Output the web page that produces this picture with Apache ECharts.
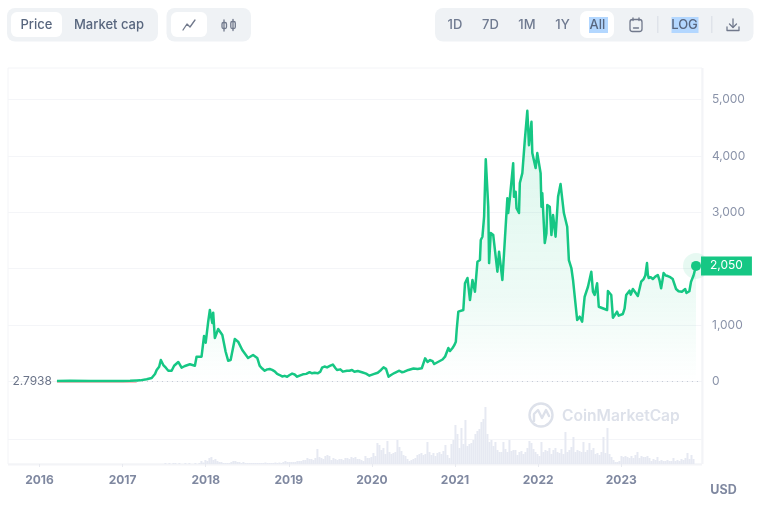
<!DOCTYPE html>
<html><head><meta charset="utf-8">
<style>html,body{margin:0;padding:0;background:#fff}#c{width:760px;height:510px}</style>
<script src="https://cdn.jsdelivr.net/npm/echarts@6/dist/echarts.min.js"></script>
</head><body><div id="c"></div>
<script>
const years=[2016.21,2016.37,2016.61,2016.85,2017.00,2017.09,2017.17,2017.21,2017.29,2017.35,2017.39,2017.41,2017.44,2017.46,2017.49,2017.52,2017.55,2017.59,2017.62,2017.67,2017.71,2017.75,2017.81,2017.87,2017.89,2017.95,2017.98,2018.00,2018.03,2018.05,2018.08,2018.09,2018.11,2018.15,2018.20,2018.24,2018.27,2018.30,2018.35,2018.39,2018.44,2018.51,2018.57,
2018.62,2018.65,2018.68,2018.71,2018.74,2018.77,2018.80,2018.83,2018.86,2018.89,2018.92,2018.95,2018.98,2019.01,2019.04,2019.07,2019.10,2019.13,2019.17,2019.21,2019.25,2019.28,2019.31,2019.35,2019.38,2019.40,2019.43,2019.46,2019.50,2019.53,2019.56,2019.58,2019.62,2019.65,2019.67,2019.70,2019.73,2019.76,2019.79,2019.83,2019.88,2019.93,2019.97,2020.02,2020.07,2020.11,2020.14,2020.17,2020.20,2020.23,2020.27,2020.33,2020.36,2020.39,2020.44,2020.50,2020.55,2020.60,2020.64,2020.67,2020.70,2020.73,2020.75,2020.80,2020.85,2020.88,2020.90,2020.92,2020.94,2020.97,2020.99,2021.01,
2021.02,2021.04,2021.10,2021.12,2021.15,2021.18,2021.21,2021.24,2021.27,2021.30,2021.31,2021.33,2021.35,2021.37,2021.40,2021.41,2021.43,2021.46,2021.51,2021.53,2021.57,2021.59,2021.63,2021.64,2021.66,2021.70,2021.71,2021.73,2021.74,2021.77,2021.78,2021.81,2021.84,2021.87,2021.89,2021.92,2021.93,2021.95,2021.97,2021.99,2022.03,2022.04,2022.05,2022.08,2022.10,2022.11,2022.14,2022.16,2022.18,2022.21,2022.24,2022.27,2022.31,2022.35,2022.37,2022.40,2022.42,2022.44,2022.47,2022.50,2022.53,2022.56,2022.60,2022.64,2022.66,2022.68,2022.71,2022.73,2022.80,2022.83,2022.84,2022.88,2022.90,2022.95,2022.97,
2023.02,2023.04,2023.06,2023.08,2023.10,2023.115,2023.13,2023.14,2023.15,2023.175,2023.20,2023.22,2023.24,2023.255,2023.27,2023.29,2023.31,2023.32,2023.33,2023.355,2023.38,2023.41,2023.44,2023.46,2023.48,2023.495,2023.51,2023.535,2023.56,2023.59,2023.62,2023.64,2023.66,2023.69,2023.73,2023.75,2023.77,2023.785,2023.80,2023.82,2023.84,2023.87,2023.90];
const prices=[8,12,10,8,10,12,18,20,40,62,133,204,262,381,292,245,191,191,280,346,245,275,305,280,440,440,807,688,1060,1268,1037,1220,771,931,824,528,369,381,753,706,558,417,470,
417,275,230,191,215,221,205,180,135,115,90,100,85,115,140,125,85,105,127,135,165,145,155,145,175,245,265,250,280,300,240,204,215,175,163,190,191,205,172,185,165,140,103,130,156,205,250,225,85,115,150,191,165,174,205,230,222,235,411,345,381,360,310,350,390,440,470,594,540,594,640,706,
913,1238,1268,1741,1835,1445,1800,1592,2124,2154,2509,2567,2922,3940,3099,2100,2632,2597,1947,2301,1800,2275,3250,2987,3250,3870,3275,3365,3073,2987,3520,3695,4280,4800,4190,4605,4050,4075,3785,4050,3695,3100,3340,2455,2630,3130,3100,2597,2950,2567,3275,3500,2987,2745,2154,2012,1800,1770,1090,1150,1060,1503,1680,1947,1592,1534,1741,1326,1285,1268,1605,1534,1131,1238,1167,
1197,1290,1534,1560,1610,1540,1534,1640,1652,1570,1516,1640,1770,1745,1817,1880,2100,1900,1835,1850,1817,1860,1888,1800,1654,1780,1923,1880,1870,1850,1817,1800,1640,1600,1592,1620,1640,1570,1551,1600,1770,1880,2050];
const volumeStartYear=2017.515, volumeStepYears=0.02407;
const volumes=[1,0,1,0,1,1,0,1,0,0,1,0,1,0,0,1,0,1,3,1.5,4,3,6,7,4,5,3,2,2,1,1,1,1,2,3,3,2,2,1,2,1,1,1,1,1,1,1,1,1,1,1.5,1,1,1,1,1.5,1,1.5,1,2,3,2,2,2,2,2,3,3,3,4,4,6,5,5,4,6,15,7,6,5,8,9,8,4,6,5,4,5,5,4,6,6,5,7,6,7,5,5,4,3,8,6,6,7,11,8,21,19,14,16,10,23,12,10,11,12,24,17,13,9,8,5,3,4,5,6,9,10,11,9,10,22,12,9,11,8,11,12,10,13,19,9,6,20,24,39,30,16,36,20,44,18,20,21,24,30,33,35,42,45,57,30,22,24,18,22,14,12,12,22,15,12,24,13,14,14,9,12,13,10,12,16,23,21,15,12,10,8,22,12,14,13,16,10,14,16,12,11,15,10,32,12,14,17,27,12,14,13,12,22,12,14,21,14,16,10,11,9,12,27,11,36,10,7,4,2,2,3,8,7,8,7,6,8,6,9,12,6,8,7,7,8,6,3,5,4,7,3,4,3,3,4,3,3,6,3,4,3,5,4,6,11,5,9,5];
const yearTicks=[2016,2017,2018,2019,2020,2021,2022,2023];
const baselinePrice=2.7938, lastPrice=2050;
const GREEN='#16c784', TXT='#58667e', AXIS='#8a93a9', PANEL='#eff2f5', PALE='#f3f4f7';
const xMin=2015.621, xMax=2023.972;
const font='Inter';
const rect=(x,y,w,h,r,fill)=>({type:'rect',silent:true,shape:{x,y,width:w,height:h,r},style:{fill}});
const label=(x,y,text,opt={})=>({type:'text',silent:true,x,y:y+0.8,style:Object.assign({text,fill:TXT,font:'500 13px '+font,align:'center',verticalAlign:'middle'},opt)});
const polyl=(pts,color='#71798c',w=1.3)=>({type:'polyline',silent:true,shape:{points:pts},style:{fill:'none',stroke:color,lineWidth:w,lineCap:'round',lineJoin:'round'}});
const rr=(x,y,w,h,r,c='#71798c',lw=1.3)=>({type:'rect',silent:true,shape:{x,y,width:w,height:h,r},style:{fill:'none',stroke:c,lineWidth:lw}});
const wm='#dde1ea';
const graphic=[
 {type:'rect',silent:true,z:-10,shape:{x:8,y:68,width:694,height:396},style:{fill:'none',stroke:PALE,lineWidth:1}},
 {type:'line',silent:true,z:-10,shape:{x1:702.5,y1:68,x2:702.5,y2:464},style:{stroke:PALE,lineWidth:2}},
 {type:'line',silent:true,z:-10,shape:{x1:8,y1:464.5,x2:702,y2:464.5},style:{stroke:PALE,lineWidth:2}},
 rect(7,8,151,33.5,8,PANEL),rect(11,12,51,25,6,'#fff'),
 label(36.5,24.5,'Price'),label(109,24.5,'Market cap'),
 rect(166.5,8,84.5,33.5,8,PANEL),rect(171,12,36,25,6,'#fff'),
 polyl([[183,30],[187,24],[190,27],[195,20]]),
 polyl([[224,20],[224,31]]),rr(222,22.5,4.5,6,1.5),polyl([[233,19.5],[233,30.5]]),rr(230.8,21.5,4.5,7,1.5),
 rect(435,8,318.5,33.5,8,PANEL),rect(580,11,34,27,7,'#fff'),
 label(455,24.5,'1D',{fill:'#6f7a90'}),label(490.5,24.5,'7D',{fill:'#6f7a90'}),label(527,24.5,'1M',{fill:'#6f7a90'}),label(562.5,24.5,'1Y',{fill:'#6f7a90'}),
 rect(589,17,19,16,0,'#b3d7ff'),label(597.5,24.5,'All'),
 rr(630,19.5,12,12,2.5),polyl([[633,18],[633,20.5]]),polyl([[639,18],[639,20.5]]),polyl([[633.5,28],[638.5,28]]),
 rect(657,16,1.5,17,0,'#dfe3ea'),
 rect(671.5,17,27,16,0,'#b3d7ff'),label(684.5,24.5,'LOG'),
 rect(711,16,1.5,17,0,'#dfe3ea'),
 polyl([[733,19],[733,27]]),polyl([[729.5,24],[733,27.5],[736.5,24]]),polyl([[727,27],[727,30.5],[739,30.5],[739,27]]),
 {type:'circle',silent:true,z:3,shape:{cx:541,cy:415,r:11.5},style:{fill:'none',stroke:wm,lineWidth:2.4}},
 polyl([[534,421],[534,414],[538,410],[542,418],[546,410],[549,416]],wm,2.4),
 label(562,416,'CoinMarketCap',{fill:wm,font:'600 15.6px '+font,align:'left'}),
 label(723.5,489,'USD',{fill:'#7f88a0',font:'700 12.5px '+font})
];
const chart=echarts.init(document.getElementById('c'),null,{renderer:'canvas'});
chart.setOption({
 animation:false,
 textStyle:{fontFamily:font},
 graphic,
 grid:[
  {left:8,width:694,top:99.5,height:282},
  {left:8,width:694,top:389,height:75}
 ],
 xAxis:[
  {gridIndex:0,type:'value',min:xMin,max:xMax,show:false,splitLine:{show:false}},
  {gridIndex:1,type:'value',min:xMin,max:xMax,splitLine:{show:false},axisLine:{show:false},
   axisTick:{show:true,length:3,customValues:yearTicks,lineStyle:{color:'#e8eaf0'}},
   axisLabel:{customValues:yearTicks,formatter:v=>String(v),color:'#7f88a0',fontWeight:700,fontSize:12,margin:10,fontFamily:font}}
 ],
 yAxis:[
  {gridIndex:0,type:'value',position:'right',min:0,max:5000,interval:1000,axisLine:{show:false},axisTick:{show:false},
   splitLine:{lineStyle:{color:'#f4f5f8'}},
   axisLabel:{color:AXIS,fontSize:12,margin:10,align:'left',padding:[2,0,0,0],fontFamily:font,formatter:v=>v.toLocaleString('en-US')}},
  {gridIndex:1,type:'value',min:0,max:75,interval:25,axisLine:{show:false},axisTick:{show:false},axisLabel:{show:false},
   splitLine:{lineStyle:{color:['transparent','#f4f5f8','transparent','transparent']}}}
 ],
 series:[
  {type:'bar',xAxisIndex:1,yAxisIndex:1,barWidth:2,itemStyle:{color:'#e6e9f2'},z:1,
   data:volumes.map((v,i)=>[volumeStartYear+i*volumeStepYears,v])},
  {type:'line',xAxisIndex:0,yAxisIndex:0,clip:false,showSymbol:false,z:2,lineStyle:{color:'rgba(234,57,67,.35)',width:1},
   data:[[years[0],-18],[years[6],-18]]},
  {type:'line',xAxisIndex:0,yAxisIndex:0,showSymbol:false,z:4,smooth:false,
   lineStyle:{color:GREEN,width:2.5,join:'round'},
   areaStyle:{color:new echarts.graphic.LinearGradient(0,0,0,1,[{offset:0,color:'rgba(22,199,132,.22)'},{offset:0.7,color:'rgba(22,199,132,.1)'},{offset:1,color:'rgba(22,199,132,0)'}])},
   data:years.map((y,i)=>[y,prices[i]]),
   markLine:{silent:true,symbol:'none',z:1,lineStyle:{color:'#c3c8d4',type:[1,4],width:1},
    label:{show:true,position:'start',formatter:String(baselinePrice),color:'#6b7489',fontSize:12,distance:5,padding:[3,0,0,0],fontFamily:font},
    data:[[{coord:[years[0],baselinePrice]},{coord:[xMax,baselinePrice]}]]}},
  {type:'scatter',xAxisIndex:0,yAxisIndex:0,z:3,symbolSize:26,itemStyle:{color:'rgba(22,199,132,.1)',opacity:1},
   data:[[years[years.length-1],lastPrice]]},
  {type:'scatter',xAxisIndex:0,yAxisIndex:0,z:6,symbolSize:10,itemStyle:{color:GREEN,opacity:1},
   data:[[years[years.length-1],lastPrice]],
   label:{show:true,position:'right',distance:0,formatter:p=>p.value[1].toLocaleString('en-US'),color:'#fff',fontSize:12,
    backgroundColor:GREEN,padding:[4,9,3,9],fontFamily:font}}
 ]
});
</script></body></html>
